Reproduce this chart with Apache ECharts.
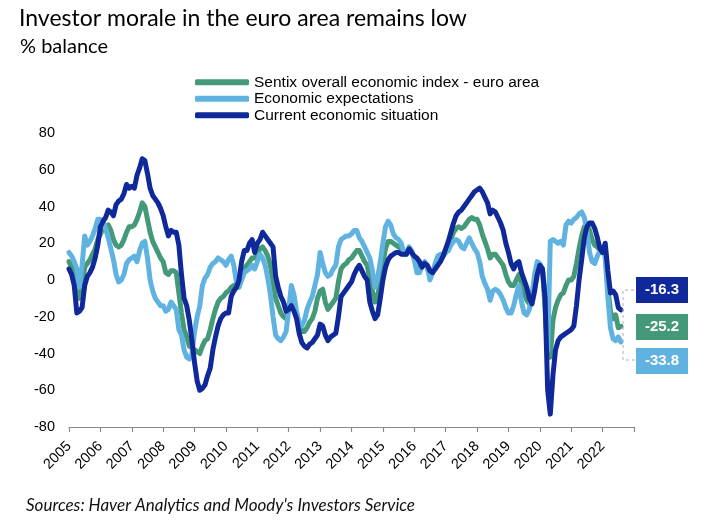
<!DOCTYPE html>
<html>
<head>
<meta charset="utf-8">
<script src="https://cdn.jsdelivr.net/npm/echarts@6/dist/echarts.min.js"></script>
<style>
html,body{margin:0;padding:0;background:#fff;}
#c{width:712px;height:530px;}
</style>
</head>
<body>
<div id="c"></div>
<script>
// ---- data (monthly, Jan 2005 - Aug 2022) ----
const startYear = 2005;
const yearTicks = [2005,2006,2007,2008,2009,2010,2011,2012,2013,2014,2015,2016,2017,2018,2019,2020,2021,2022];
const seriesNames = ['Sentix overall economic index - euro area','Economic expectations','Current economic situation'];

const sentixOverall = [
  10, 7, 3, -5, -10, -3, 7, 9, 11, 14, 17, 22,
  25, 28, 29, 30, 27, 22, 19, 18, 19, 22, 26, 29,
  29, 30, 33, 37, 42, 40, 33, 26, 21, 18, 15, 12,
  10, 4, 3, 5, 5, 4, -7, -18, -27, -31, -36, -37,
  -38, -39, -40, -36, -33, -32, -27, -21, -16, -12, -10, -9,
  -7, -6, -4, -3, -2, -1, 4, 6, 8, 10, 12, 12,
  14, 17, 18, 16, 13, 8, -1, -10, -14, -18, -20, -21,
  -16, -12, -16, -18, -24, -28, -28, -26, -23, -21, -17, -10,
  -6, -5, -12, -16, -14, -12, -10, -1, 6, 8, 9, 11,
  12, 14, 16, 16, 13, 10, 8, 1, -6, -12, -9, 0,
  9, 17, 21, 21, 20, 19, 18, 17, 14, 14, 17, 15,
  12, 8, 7, 8, 9, 7, 2, 4, 7, 10, 12, 13,
  15, 19, 22, 26, 28, 29, 28, 29, 31, 33, 34, 33,
  33, 30, 25, 21, 17, 12, 14, 14, 12, 10, 8, 3,
  -1, -3, -3, 0, 3, -2, -7, -11, -13, -11, -2, 6,
  7, 6, -15, -42, -42, -22, -15, -11, -8, -7, -3, 0,
  0, 2, 9, 17, 24, 29, 30, 27, 22, 19, 18, 16,
  15, 16, -4, -17, -21, -19, -26, -25.2
];
const expectations = [
  15, 13, 10, 6, -4, 8, 24, 19, 21, 24, 28, 33,
  33, 32, 28, 23, 17, 11, 3, -1, 0, 3, 9, 11,
  12, 13, 10, 16, 20, 21, 12, 0, -6, -10, -12, -14,
  -14, -17, -16, -12, -14, -16, -27, -30, -38, -42, -43, -40,
  -28, -20, -14, -3, 1, 3, 7, 9, 10, 12, 11, 10,
  8, 11, 13, 8, -1, -4, 0, 4, 5, 6, 8, 6,
  10, 14, 12, 8, 1, -8, -20, -30, -32, -33, -31, -28,
  -16, -3, -8, -17, -24, -25, -22, -16, -12, -9, -3, 3,
  15, 9, 4, 2, 3, 6, 8, 18, 22, 23, 24, 24,
  25, 27, 27, 23, 21, 18, 15, 12, 5, -4, 1, 10,
  20, 29, 32, 30, 25, 23, 22, 20, 15, 14, 18, 16,
  11, 4, 4, 8, 10, 7, 0, 4, 9, 13, 14, 14,
  15, 16, 19, 21, 22, 21, 18, 17, 20, 23, 20, 17,
  15, 10, 2, -2, -5, -11, -6, -5, -6, -8, -11, -15,
  -18, -18, -14, -8, -3, -12, -18, -19, -16, -8, 3, 10,
  9, 6, -8, -38, 21, 22, 21, 20, 21, 19, 30, 32,
  31, 33, 34, 36, 37, 34, 27, 15, 10, 9, 13, 16,
  18, 12, -9, -26, -32, -33, -31, -33.8
];
const currentSituation = [
  6, 3, -3, -18, -17, -15, -3, 2, 4, 7, 12, 19,
  29, 32, 34, 38, 37, 35, 41, 43, 44, 47, 52, 50,
  51, 50, 57, 61, 66, 65, 58, 50, 46, 44, 42, 39,
  35, 29, 24, 27, 26, 26, 19, 3, -10, -14, -22, -33,
  -45, -55, -60, -59, -57, -52, -48, -38, -31, -25, -21, -19,
  -18, -18, -9, -6, -4, 0, 10, 16, 16, 20, 22, 15,
  20, 22, 26, 24, 22, 20, 18, 2, -4, -9, -12, -17,
  -16, -14, -17, -21, -29, -34, -36, -37, -35, -34, -32, -30,
  -24, -25, -30, -33, -31, -30, -29, -20, -9, -7, -5, -3,
  -1, 3, 6, 8, 5, 2, 0, -12, -17, -21, -19, -10,
  0, 7, 11, 13, 14, 15, 15, 14, 14, 14, 17, 15,
  13, 12, 10, 7, 9, 8, 5, 4, 6, 8, 10, 13,
  17, 21, 26, 31, 35, 37, 38, 40, 42, 44, 46, 48,
  49, 50, 48, 45, 42, 36, 38, 37, 34, 31, 27, 20,
  15, 9, 6, 9, 10, 4, 0, -4, -10, -13, -6, 3,
  8, 6, -10, -60, -73, -52, -38, -33, -31, -30, -29, -28,
  -27, -25, -14, 0, 11, 23, 29, 31, 31, 28, 23, 17,
  15, 20, 5, -7, -6, -8, -15, -16.3
];

const cGreen = '#449a78', cLight = '#60b3e1', cDark = '#10299a';
const toPairs = arr => arr.map((v, i) => [startYear + i / 12, v]);

const chart = echarts.init(document.getElementById('c'), null, {renderer: 'canvas'});

const lastOf = a => a[a.length - 1];
const boxes = [
  {val: lastOf(currentSituation), color: cDark, top: 277},
  {val: lastOf(sentixOverall), color: cGreen, top: 314},
  {val: lastOf(expectations), color: cLight, top: 348}
];

const lineStyle = c => ({color: c, width: 5, cap: 'round', join: 'round'});

chart.setOption({
  animation: false,
  backgroundColor: '#fff',
  textStyle: {fontFamily: 'Liberation Sans, Arial, sans-serif'},
  title: [
    {text: 'Investor morale in the euro area remains low', left: 14, top: 2,
     textStyle: {fontFamily: 'Lato, sans-serif', fontSize: 23, fontWeight: 'normal', color: '#000'}},
    {text: '% balance', left: 15, top: 32,
     textStyle: {fontFamily: 'Lato, sans-serif', fontSize: 20, fontWeight: 'normal', color: '#000'}},
    {text: "Sources: Haver Analytics and Moody's Investors Service", left: 21, top: 492,
     textStyle: {fontFamily: 'Lato, sans-serif', fontSize: 17, fontStyle: 'italic', fontWeight: 'normal', color: '#111'}}
  ],
  legend: {
    orient: 'vertical', left: 190, top: 69,
    itemWidth: 54, itemHeight: 6, itemGap: 0,
    textStyle: {fontSize: 15.5, color: '#000', fontFamily: 'Liberation Sans, Arial, sans-serif', lineHeight: 16.5},
    data: seriesNames.map(n => ({name: n, icon: 'roundRect'}))
  },
  grid: {left: 69, right: 78, top: 133, height: 294, containLabel: false},
  xAxis: [
    {type: 'value', min: yearTicks[0], max: lastOf(yearTicks) + 1, interval: 1, position: 'bottom',
     axisLine: {show: false}, axisTick: {show: false}, splitLine: {show: false},
     axisLabel: {rotate: 45, margin: 17, fontSize: 14.5, color: '#000',
       formatter: v => (yearTicks.indexOf(Math.round(v)) >= 0 ? String(Math.round(v)) : '')}},
    {type: 'value', min: yearTicks[0], max: lastOf(yearTicks) + 1, interval: 1, position: 'bottom',
     axisLine: {show: true, onZero: true, lineStyle: {color: '#8a8a8a', width: 1.2}},
     axisTick: {show: true, length: 5, lineStyle: {color: '#8a8a8a', width: 1.2}},
     axisLabel: {show: false}, splitLine: {show: false}}
  ],
  yAxis: {
    type: 'value', min: -80, max: 80, interval: 20,
    axisLine: {show: false}, axisTick: {show: false}, splitLine: {show: false},
    axisLabel: {fontSize: 14.5, color: '#000', margin: 14}
  },
  series: [
    {name: seriesNames[0], type: 'line', xAxisIndex: 0, showSymbol: false, symbol: 'none',
     data: toPairs(sentixOverall), lineStyle: lineStyle(cGreen), itemStyle: {color: cGreen}, z: 2},
    {name: seriesNames[1], type: 'line', xAxisIndex: 0, showSymbol: false, symbol: 'none',
     data: toPairs(expectations), lineStyle: lineStyle(cLight), itemStyle: {color: cLight}, z: 3},
    {name: seriesNames[2], type: 'line', xAxisIndex: 0, showSymbol: false, symbol: 'none',
     data: toPairs(currentSituation), lineStyle: lineStyle(cDark), itemStyle: {color: cDark}, z: 4}
  ],
  graphic: [
    {type: 'polyline', shape: {points: [[634, 290], [623, 290], [623, 360], [636, 360]]},
     style: {stroke: '#b0b0b0', lineWidth: 1, lineDash: [3, 3], fill: null}, z: 10}
  ].concat(boxes.map(b => ({
    type: 'group', left: 636, top: b.top, z: 20,
    children: [
      {type: 'rect', shape: {x: 0, y: 0, width: 52, height: 26}, style: {fill: b.color}},
      {type: 'text', x: 26, y: 13, style: {text: b.val.toFixed(1), fill: '#fff',
        font: 'bold 15px "Liberation Sans", Arial, sans-serif', textAlign: 'center', textVerticalAlign: 'middle'}}
    ]
  })))
});
</script>
</body>
</html>
